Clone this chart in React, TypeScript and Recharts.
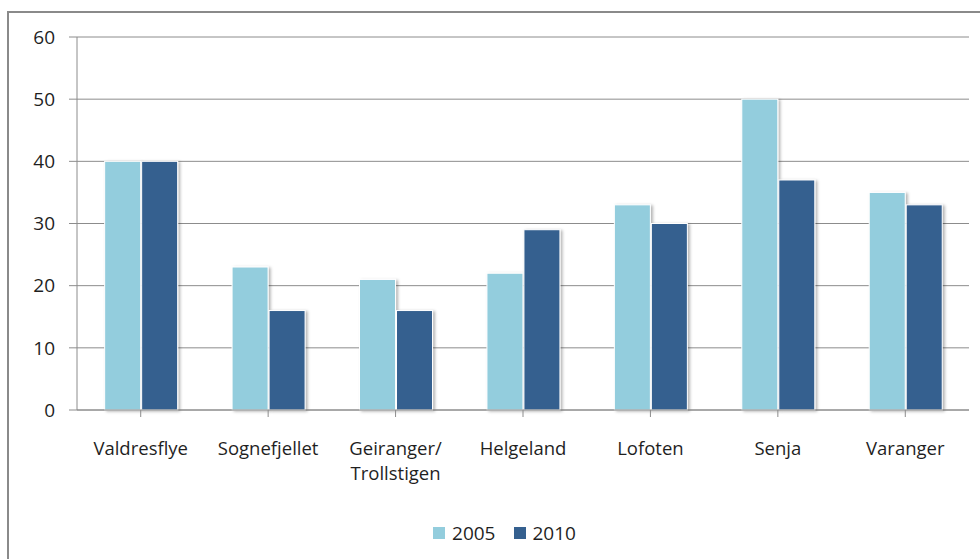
import { BarChart, Bar, XAxis, YAxis, CartesianGrid, Legend } from 'recharts';

// Reference values
const places = ['Valdresflye', 'Sognefjellet', 'Geiranger/\nTrollstigen', 'Helgeland', 'Lofoten', 'Senja', 'Varanger'];
const y2005 = [40, 23, 21, 22, 33, 50, 35];
const y2010 = [40, 16, 16, 29, 30, 37, 33];
const yTicks = [0, 10, 20, 30, 40, 50, 60];

const C2005 = '#93cddd';
const C2010 = '#35608f';
const FONT = '"Open Sans", Lato, sans-serif';
const TEXT = '#1f1f1f';

const data = places.map((name, i) => ({ name, y2005: y2005[i], y2010: y2010[i] }));

const ShadowBar = (props: any) => {
  const { x, y, width, height, fill } = props;
  if (!height || height <= 0) return null;
  return (
    <rect
      x={x}
      y={y}
      width={width}
      height={height}
      fill={fill}
      stroke="#ffffff"
      strokeWidth={1}
      filter="url(#barShadow)"
    />
  );
};

const PlaceTick = (props: any) => {
  const { x, y, payload } = props;
  const lines = String(payload.value).split('\n');
  return (
    <text x={x} y={y} textAnchor="middle" fill={TEXT} fontSize={18.5} fontFamily={FONT}>
      {lines.map((line, i) => (
        <tspan key={i} x={x} dy={i === 0 ? 36 : 25}>
          {line}
        </tspan>
      ))}
    </text>
  );
};

const LegendBox = () => (
  <div
    style={{
      display: 'flex',
      justifyContent: 'center',
      alignItems: 'center',
      gap: 18,
      paddingTop: 12,
      paddingLeft: 40,
      fontFamily: FONT,
      fontSize: 19,
      color: TEXT,
    }}
  >
    {[
      ['2005', C2005],
      ['2010', C2010],
    ].map(([label, color]) => (
      <span key={label} style={{ display: 'flex', alignItems: 'center', gap: 7 }}>
        <span style={{ width: 12, height: 12, background: color, display: 'inline-block' }} />
        {label}
      </span>
    ))}
  </div>
);

export default function App() {
  return (
    <div style={{ position: 'absolute', left: 0, top: 0, width: 980, height: 559, overflow: 'hidden', background: '#fff' }}>
      <div
        style={{
          position: 'absolute',
          left: 7,
          top: 11,
          width: 1000,
          height: 600,
          borderLeft: '2px solid #8a8a8a',
          borderTop: '2px solid #8a8a8a',
        }}
      />
      <div style={{ position: 'absolute', left: 0, top: 0 }}>
        <BarChart
          width={980}
          height={559}
          data={data}
          margin={{ top: 37, right: 11, bottom: 0, left: 0 }}
          barCategoryGap="21.7%"
          barGap={1}
        >
          <defs>
            <filter id="barShadow" x="-20%" y="-10%" width="150%" height="130%">
              <feDropShadow dx={2} dy={1} stdDeviation={1.5} floodColor="#000" floodOpacity={0.3} />
            </filter>
          </defs>
          <CartesianGrid vertical={false} stroke="#8c8c8c" />
          <XAxis
            dataKey="name"
            interval={0}
            height={98}
            tick={<PlaceTick />}
            axisLine={{ stroke: '#8c8c8c' }}
            tickLine={{ stroke: '#8c8c8c' }}
            tickSize={7}
          />
          <YAxis
            domain={[0, 60]}
            ticks={yTicks}
            width={77}
            axisLine={{ stroke: '#8c8c8c' }}
            tickLine={{ stroke: '#8c8c8c' }}
            tickSize={8}
            tickMargin={14}
            tick={{ fill: TEXT, fontSize: 19, fontFamily: FONT }}
          />
          <Legend verticalAlign="bottom" height={51} content={<LegendBox />} />
          <Bar dataKey="y2005" name="2005" fill={C2005} shape={<ShadowBar />} isAnimationActive={false} />
          <Bar dataKey="y2010" name="2010" fill={C2010} shape={<ShadowBar />} isAnimationActive={false} />
        </BarChart>
      </div>
    </div>
  );
}
